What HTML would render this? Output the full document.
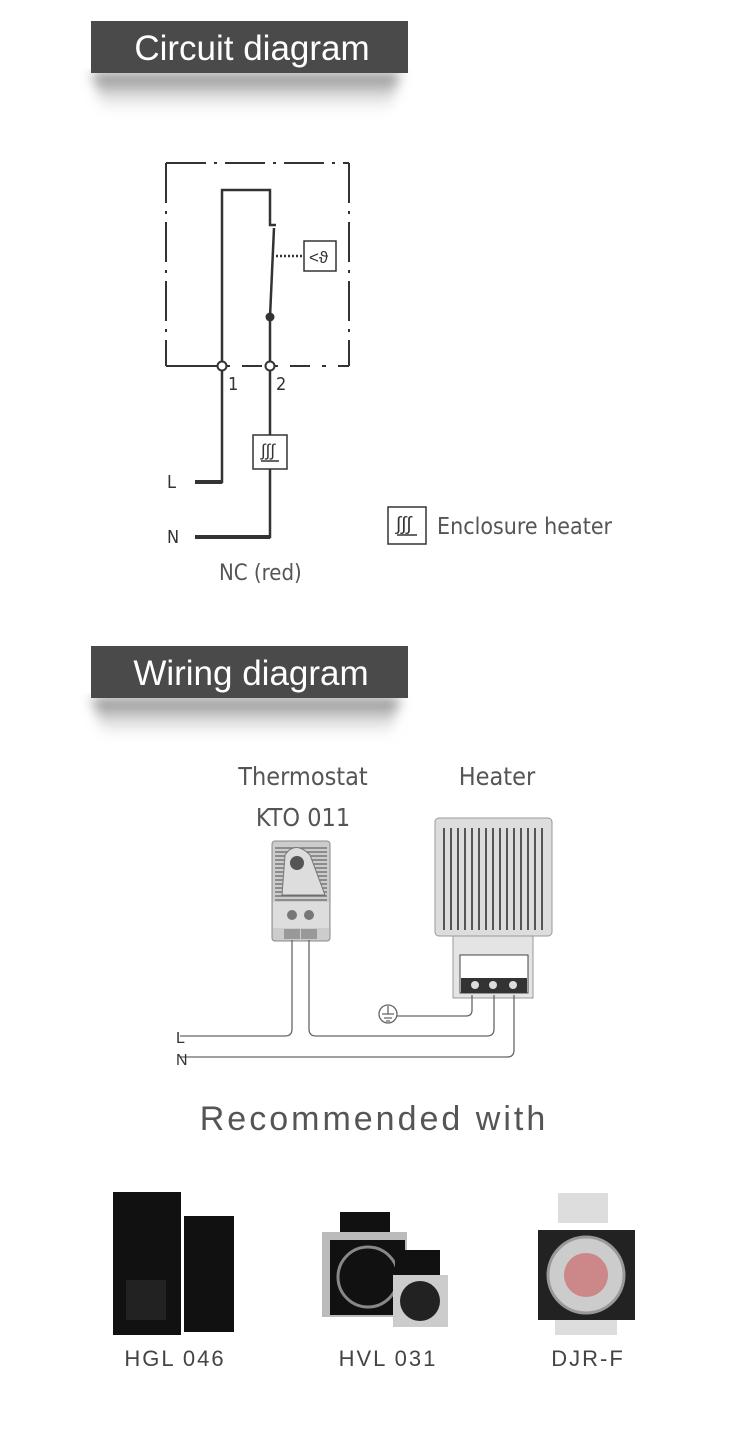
<!DOCTYPE html>
<html><head><meta charset="utf-8"><style>
html,body{margin:0;padding:0;background:#fff;}
svg{display:block;}
text{font-family:"Liberation Sans",sans-serif;}
.n{font-family:"DejaVu Sans Condensed","Liberation Sans Narrow","Liberation Sans",sans-serif;}
</style></head><body>
<svg width="750" height="1434" viewBox="0 0 750 1434" xmlns="http://www.w3.org/2000/svg">
<defs>
<linearGradient id="sh" x1="0" y1="0" x2="0" y2="1">
<stop offset="0" stop-color="#666" stop-opacity="0.9"/>
<stop offset="1" stop-color="#fff" stop-opacity="0"/>
</linearGradient>
<filter id="bl"><feGaussianBlur stdDeviation="6"/></filter>
</defs>
<rect width="750" height="1434" fill="#fff"/>

<!-- Header 1 -->
<path d="M92 73 L400 73 L388 118 L105 118 Z" fill="url(#sh)" filter="url(#bl)"/>
<rect x="91" y="21" width="317" height="52" fill="#4a4a4a"/>
<text x="252" y="60" font-size="35" fill="#fff" text-anchor="middle">Circuit diagram</text>

<!-- Circuit -->
<g stroke="#333" fill="none" stroke-width="2.5">
<path d="M166 163 H349" stroke-dasharray="40 8 3 8" stroke-width="2"/>
<path d="M166 163 V366" stroke-dasharray="40 8 3 8" stroke-width="2"/>
<path d="M349 163 V366" stroke-dasharray="40 8 3 8" stroke-width="2"/>
<path d="M166 366 H222" stroke-width="2"/>
<path d="M226 366 H349" stroke-dasharray="4 12 20 12" stroke-width="2"/>
<path d="M222 366 V190 H270 V225 H276"/>
<path d="M274 228 L270 317 V362"/>
<path d="M276 256 H304" stroke-dasharray="2 2" stroke-width="2.5"/>
<rect x="304" y="241" width="32" height="30" stroke-width="1.5"/>
<path d="M222 370 V482 H195"/>
<path d="M195 482 H222" stroke-width="4"/>
<path d="M270 370 V435 M270 469 V537 H195"/>
<path d="M195 537 H270" stroke-width="4"/>
<rect x="253" y="435" width="34" height="34" stroke-width="1.5"/>
<path d="M261 461 H279" stroke-width="1.5"/>
<rect x="388" y="507" width="38" height="37" stroke-width="1.5"/>
<path d="M397 535 H417" stroke-width="1.5"/>
</g>
<circle cx="270" cy="317" r="4.5" fill="#333"/>
<circle cx="222" cy="366" r="4.5" fill="#fff" stroke="#333" stroke-width="2"/>
<circle cx="270" cy="366" r="4.5" fill="#fff" stroke="#333" stroke-width="2"/>
<text x="309" y="263" font-size="17" fill="#333">&lt;ϑ</text>
<text x="261" y="456" font-size="17" fill="#333">∫∫∫</text>
<text x="396" y="530" font-size="19" fill="#333">∫∫∫</text>
<text class="n" x="228" y="390" font-size="18" fill="#333">1</text>
<text class="n" x="276" y="390" font-size="18" fill="#333">2</text>
<text class="n" x="167" y="488" font-size="18" fill="#333">L</text>
<text class="n" x="167" y="543" font-size="18" fill="#333">N</text>
<text class="n" x="219" y="580" font-size="22" fill="#555">NC (red)</text>
<text class="n" x="437" y="534" font-size="23" fill="#555">Enclosure heater</text>

<!-- Header 2 -->
<path d="M92 698 L400 698 L388 743 L105 743 Z" fill="url(#sh)" filter="url(#bl)"/>
<rect x="91" y="646" width="317" height="52" fill="#4a4a4a"/>
<text x="251" y="685" font-size="35" fill="#fff" text-anchor="middle">Wiring diagram</text>

<!-- Wiring -->
<text class="n" x="303" y="785" font-size="25" fill="#555" text-anchor="middle">Thermostat</text>
<text class="n" x="303" y="826" font-size="25" fill="#555" text-anchor="middle">KTO 011</text>
<text class="n" x="497" y="785" font-size="25" fill="#555" text-anchor="middle">Heater</text>
<!-- thermostat -->
<rect x="272" y="841" width="58" height="100" rx="3" fill="#ccc" stroke="#888"/>
<g stroke="#666" stroke-width="1.2">
<path d="M275 848 H327 M275 852 H327 M275 856 H327 M275 860 H327 M275 864 H327 M275 868 H327 M275 872 H327 M275 876 H327 M275 880 H327 M275 884 H327 M275 888 H327 M275 892 H327 M275 896 H327 M275 900 H327"/>
</g>
<path d="M285 855 Q295 840 310 855 L325 895 H282 Z" fill="#ddd" stroke="#777"/>
<circle cx="297" cy="863" r="7" fill="#555"/>
<rect x="273" y="902" width="56" height="26" fill="#ddd"/>
<circle cx="292" cy="915" r="5" fill="#777"/><circle cx="309" cy="915" r="5" fill="#777"/>
<rect x="284" y="929" width="16" height="10" fill="#999"/><rect x="301" y="929" width="16" height="10" fill="#999"/>
<!-- heater -->
<rect x="435" y="818" width="117" height="118" rx="4" fill="#ddd" stroke="#999"/>
<g stroke="#555" stroke-width="2">
<path d="M444 828 V930 M451 828 V930 M458 828 V930 M465 828 V930 M472 828 V930 M479 828 V930 M486 828 V930 M493 828 V930 M500 828 V930 M507 828 V930 M514 828 V930 M521 828 V930 M528 828 V930 M535 828 V930 M542 828 V930"/>
</g>
<rect x="453" y="936" width="80" height="62" fill="#e4e4e4" stroke="#999"/>
<rect x="460" y="955" width="68" height="38" fill="#fff" stroke="#444"/>
<rect x="461" y="978" width="66" height="15" fill="#333"/>
<circle cx="475" cy="985" r="4" fill="#ddd"/><circle cx="493" cy="985" r="4" fill="#ddd"/><circle cx="513" cy="985" r="4" fill="#ddd"/>
<g stroke="#666" stroke-width="1.3" fill="none">
<path d="M180 1036 H285 Q292 1036 292 1029 V940"/>
<path d="M309 940 V1029 Q309 1036 316 1036 H487 Q494 1036 494 1029 V995"/>
<path d="M180 1057 H507 Q514 1057 514 1050 V995"/>
<path d="M397 1016 H466 Q472 1016 472 1010 V995"/>
<circle cx="388" cy="1014" r="9"/>
<path d="M388 1006 V1014 M382 1014 H394 M384 1018 H392 M386 1021 H390"/>
</g>
<text x="176" y="1043" font-size="16" fill="#333">L</text>
<text x="176" y="1065" font-size="16" fill="#333">N</text>

<!-- Recommended -->
<text x="374" y="1130" font-size="34" fill="#555" text-anchor="middle" letter-spacing="3">Recommended with</text>
<rect x="113" y="1192" width="68" height="143" fill="#111"/>
<rect x="126" y="1280" width="40" height="40" fill="#222"/>
<rect x="184" y="1216" width="50" height="116" fill="#111"/>
<rect x="340" y="1212" width="50" height="30" fill="#111"/>
<rect x="322" y="1232" width="85" height="85" fill="#bbb"/>
<rect x="330" y="1240" width="75" height="75" fill="#111"/>
<circle cx="368" cy="1277" r="30" fill="none" stroke="#888" stroke-width="3"/>
<rect x="395" y="1250" width="45" height="25" fill="#111"/>
<rect x="393" y="1275" width="55" height="52" fill="#ccc"/>
<circle cx="420" cy="1301" r="20" fill="#222"/>
<rect x="558" y="1193" width="50" height="30" fill="#ddd"/>
<rect x="538" y="1230" width="97" height="90" fill="#222"/>
<circle cx="586" cy="1275" r="38" fill="#ccc" stroke="#999" stroke-width="3"/>
<circle cx="586" cy="1275" r="22" fill="#c88"/>
<rect x="555" y="1320" width="62" height="15" fill="#ddd"/>
<text x="175" y="1366" font-size="22" fill="#444" text-anchor="middle" letter-spacing="2">HGL 046</text>
<text x="388" y="1366" font-size="22" fill="#444" text-anchor="middle" letter-spacing="2">HVL 031</text>
<text x="588" y="1366" font-size="22" fill="#444" text-anchor="middle" letter-spacing="2">DJR-F</text>
</svg>
</body></html>
